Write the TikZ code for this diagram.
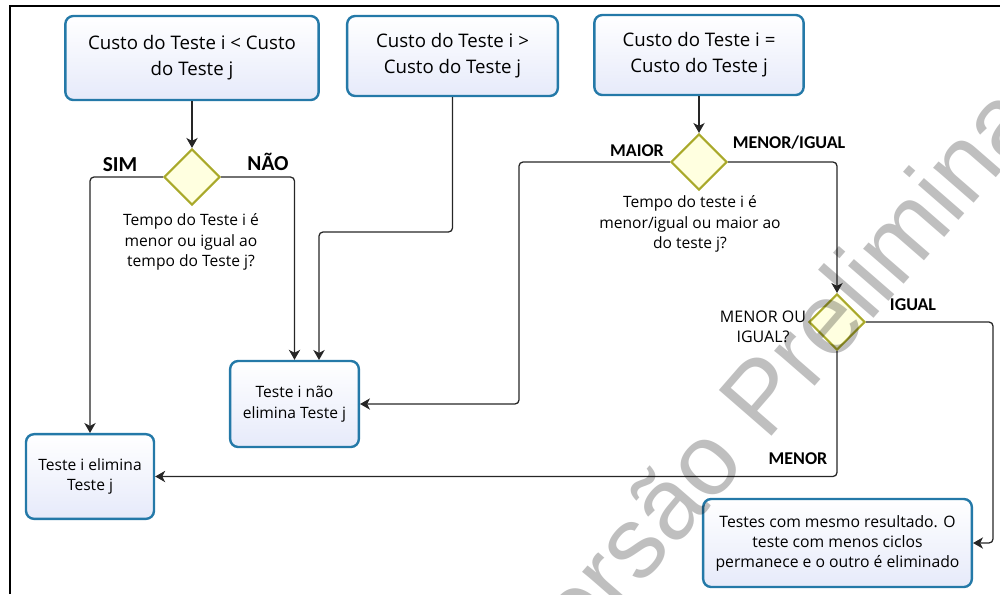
\documentclass[tikz,border=0pt]{standalone}
\usepackage{fontspec}
\setmainfont{Open Sans}
\newfontfamily\lblfont{Carlito}
\newfontfamily\wmfont{Liberation Sans}
\usetikzlibrary{arrows.meta,shapes.geometric,calc}
\definecolor{boxline}{HTML}{2479A8}
\definecolor{boxfill}{HTML}{E6EAFA}
\definecolor{dialine}{HTML}{A9A92A}
\definecolor{diafill}{HTML}{FFFFE0}
\tikzset{
  topbox/.style={draw=boxline, line width=1.8pt, rounded corners=6pt,
    top color=white, bottom color=boxfill, align=center, inner sep=2pt,
    font=\fontsize{14}{19.5}\selectfont},
  lowbox/.style={topbox, font=\fontsize{11.7}{15.5}\selectfont},
  decision/.style={diamond, draw=dialine, fill=diafill, line width=1.6pt,
    minimum width=42pt, minimum height=42pt, inner sep=0pt},
  qtext/.style={align=center, inner sep=0pt, font=\fontsize{11.7}{15.4}\selectfont},
  lbl/.style={inner sep=0pt, font=\lblfont\bfseries\fontsize{13.5}{14}\selectfont},
  biglbl/.style={inner sep=0pt, font=\lblfont\bfseries\fontsize{16}{17}\selectfont},
  conn/.style={draw=black!85, line width=0.95pt, rounded corners=3pt,
    -{Stealth[length=7.5pt,width=8.5pt,inset=2.2pt]}},
  frame/.style={draw=black, line width=1.5pt}
}
\begin{document}
\begin{tikzpicture}[x=0.75pt,y=-0.75pt]
\useasboundingbox (0,0) rectangle (1000,594);
% frame
\coordinate (fr1) at (10,594);
\coordinate (fr2) at (10,5.5);
\coordinate (fr3) at (1000,5.5);
\draw[frame] (fr1) -- (fr2) -- (fr3);

% boxes
\node[topbox, minimum width=190pt, minimum height=63pt] (a) at (192,58)
  {Custo do Teste i < Custo\\do Teste j};
\node[topbox, minimum width=158pt, minimum height=60pt] (b) at (452.5,56)
  {Custo do Teste i >\\Custo do Teste j};
\node[topbox, minimum width=157pt, minimum height=60pt] (c) at (699,55)
  {Custo do Teste i =\\Custo do Teste j};
\node[lowbox, minimum width=96pt, minimum height=63.5pt] (e) at (90,476.5)
  {Teste i elimina\\Teste j};
\node[lowbox, minimum width=96.5pt, minimum height=64.5pt] (f) at (294.5,404)
  {Teste i não\\elimina Teste j};
\node[lowbox, font=\fontsize{11.8}{15}\selectfont, minimum width=201.5pt, minimum height=66pt] (g) at (837.5,543)
  {Testes com mesmo resultado. O\\teste com menos ciclos\\permanece e o outro é eliminado};

% decisions
\node[decision] (d1) at (192,177) {};
\node[decision] (d2) at (699,162) {};
\node[decision] (d3) at (837,322) {};

% question texts
\node[qtext] (q1) at (191,242) {Tempo do Teste i é\\menor ou igual ao\\tempo do Teste j?};
\node[qtext] (q2) at (690,224) {Tempo do teste i é\\menor/igual ou maior ao\\do teste j?};
\node[qtext, font=\fontsize{12}{15}\selectfont] (q3) at (763,327) {MENOR OU\\IGUAL?};

% labels
\node[biglbl] (lsim) at (120,165) {SIM};
\node[biglbl] (lnao) at (268,162) {NÃO};
\node[lbl] (lmaior) at (637,151) {MAIOR};
\node[lbl] (lmi) at (789,143) {MENOR/IGUAL};
\node[lbl] (ligual) at (913,305) {IGUAL};
\node[lbl] (lmenor) at (798,459) {MENOR};

% helper coordinates
\coordinate (kb) at (452.5,232);
\coordinate (fb) at (319,360);
\coordinate (k2) at (519,404);
\coordinate (k3) at (993,543);

% connectors
\draw[conn] (a.south) -- (d1.north);
\draw[conn] (d1.west) -| (e.north);
\draw[conn] (d1.east) -| (f.north);
\draw[conn] (b.south) -- (kb) -| (fb);
\draw[conn] (c.south) -- (d2.north);
\draw[conn] (d2.west) -| (k2) -- (f.east);
\draw[conn] (d2.east) -| (d3.north);
\draw[conn] (d3.east) -| (k3) -- (g.east);
\draw[conn] (d3.south) |- (e.east);

% watermark
\node[rotate=49, text=black, text opacity=0.25, inner sep=0pt,
  font=\wmfont\fontsize{76}{80}\selectfont] (wm) at (776,376) {Versão Preliminar};
\end{tikzpicture}
\end{document}
